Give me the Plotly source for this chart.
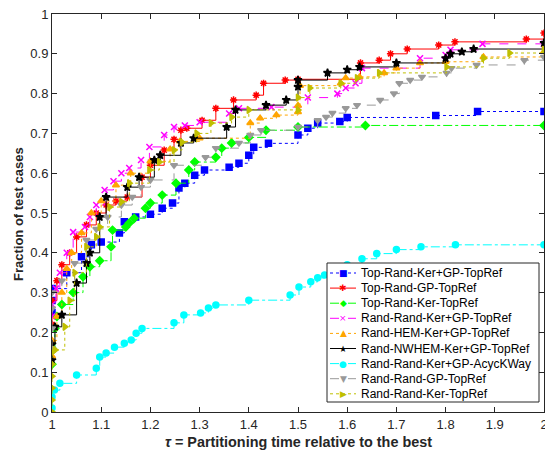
import plotly.graph_objects as go

# performance profile: tau values and fraction of test cases for each method
legend_names = [
    "Top-Rand-Ker+GP-TopRef",
    "Top-Rand-GP-TopRef",
    "Top-Rand-Ker-TopRef",
    "Rand-Rand-Ker+GP-TopRef",
    "Rand-HEM-Ker+GP-TopRef",
    "Rand-NWHEM-Ker+GP-TopRef",
    "Rand-Rand-Ker+GP-AcycKWay",
    "Rand-Rand-GP-TopRef",
    "Rand-Rand-Ker-TopRef",
]

tau_top_rand_kergp = [1.0, 1.0, 1.0, 1.03, 1.06, 1.08, 1.10, 1.137, 1.147, 1.17, 1.2, 1.224, 1.245,
                      1.258, 1.27, 1.29, 1.31, 1.36, 1.38, 1.40, 1.41, 1.44, 1.50, 1.52, 1.54,
                      1.585, 1.60, 1.78, 1.865, 2.0]
frac_top_rand_kergp = [0.25, 0.28, 0.31, 0.35, 0.39, 0.42, 0.427, 0.45, 0.478, 0.49, 0.497, 0.512, 0.525,
                       0.563, 0.575, 0.595, 0.608, 0.615, 0.625, 0.645, 0.665, 0.675, 0.696, 0.713, 0.726,
                       0.73, 0.74, 0.745, 0.755, 0.755]

tau_top_rand_gp = [1.0, 1.0, 1.01, 1.02, 1.036, 1.05, 1.07, 1.09, 1.11, 1.13, 1.153, 1.183, 1.2, 1.228,
                   1.248, 1.262, 1.274, 1.305, 1.333, 1.369, 1.415, 1.43, 1.474, 1.50, 1.627, 1.665,
                   1.688, 1.722, 1.786, 1.819, 1.964, 2.0]
frac_top_rand_gp = [0.22, 0.28, 0.33, 0.37, 0.40, 0.44, 0.47, 0.50, 0.52, 0.53, 0.54, 0.59, 0.62, 0.658,
                    0.685, 0.708, 0.713, 0.733, 0.763, 0.784, 0.796, 0.826, 0.834, 0.836, 0.877, 0.884,
                    0.90, 0.912, 0.922, 0.93, 0.937, 0.952]

tau_top_rand_ker = [1.0, 1.0, 1.006, 1.01, 1.02, 1.043, 1.063, 1.077, 1.097, 1.12, 1.123, 1.15, 1.157,
                    1.167, 1.19, 1.2, 1.224, 1.252, 1.278, 1.29, 1.333, 1.345, 1.365, 1.40, 1.435,
                    1.50, 1.637, 2.0]
frac_top_rand_ker = [0.12, 0.16, 0.21, 0.24, 0.27, 0.30, 0.34, 0.365, 0.38, 0.415, 0.457, 0.465, 0.475,
                     0.487, 0.512, 0.525, 0.545, 0.575, 0.608, 0.628, 0.64, 0.663, 0.676, 0.69, 0.708,
                     0.716, 0.72, 0.72]

tau_rand_rand_kergp = [1.0, 1.0, 1.008, 1.016, 1.03, 1.043, 1.067, 1.077, 1.09, 1.107, 1.125, 1.141,
                       1.157, 1.181, 1.198, 1.228, 1.248, 1.27, 1.30, 1.36, 1.38, 1.446, 1.52, 1.58,
                       1.597, 1.617, 1.63, 1.748, 1.80, 1.81, 1.875, 2.0]
frac_rand_rand_kergp = [0.24, 0.27, 0.31, 0.35, 0.40, 0.452, 0.465, 0.49, 0.52, 0.558, 0.58, 0.60,
                        0.613, 0.633, 0.666, 0.696, 0.716, 0.72, 0.728, 0.75, 0.763, 0.766, 0.79, 0.80,
                        0.814, 0.826, 0.864, 0.889, 0.897, 0.91, 0.925, 0.925]

tau_rand_hem_kergp = [1.0, 1.0, 1.01, 1.02, 1.03, 1.04, 1.06, 1.08, 1.10, 1.13, 1.16, 1.20, 1.24, 1.26,
                      1.30, 1.403, 1.423, 1.456, 1.50, 1.50, 1.504, 1.587, 1.597, 1.625, 1.675, 1.70,
                      1.748, 1.80, 1.877, 2.0]
frac_rand_hem_kergp = [0.14, 0.18, 0.24, 0.30, 0.36, 0.40, 0.45, 0.50, 0.53, 0.57, 0.60, 0.63, 0.66, 0.68,
                       0.688, 0.726, 0.738, 0.746, 0.754, 0.77, 0.82, 0.826, 0.839, 0.842, 0.852, 0.864,
                       0.877, 0.88, 0.892, 0.905]

tau_rand_nwhem_kergp = [1.0, 1.0, 1.006, 1.02, 1.05, 1.07, 1.077, 1.097, 1.11, 1.153, 1.177, 1.208, 1.22,
                        1.262, 1.288, 1.355, 1.373, 1.435, 1.476, 1.50, 1.50, 1.56, 1.60, 1.625, 1.70,
                        1.80, 1.81, 1.833, 1.857, 2.0]
frac_rand_nwhem_kergp = [0.13, 0.17, 0.214, 0.244, 0.324, 0.374, 0.40, 0.49, 0.54, 0.565, 0.59, 0.633, 0.645,
                         0.676, 0.688, 0.716, 0.759, 0.771, 0.784, 0.817, 0.834, 0.852, 0.86, 0.867, 0.877,
                         0.889, 0.90, 0.905, 0.912, 0.927]

tau_rand_rand_acyc = [1.0, 1.0, 1.005, 1.016, 1.05, 1.09, 1.097, 1.11, 1.127, 1.147, 1.161, 1.171, 1.183,
                      1.248, 1.268, 1.302, 1.318, 1.333, 1.40, 1.484, 1.502, 1.526, 1.54, 1.554, 1.57,
                      1.60, 1.63, 1.66, 1.70, 1.75, 1.82, 2.0]
frac_rand_rand_acyc = [0.01, 0.038, 0.055, 0.072, 0.093, 0.11, 0.138, 0.148, 0.163, 0.173, 0.181, 0.198, 0.21,
                       0.224, 0.244, 0.249, 0.261, 0.269, 0.281, 0.294, 0.314, 0.327, 0.337, 0.344, 0.355,
                       0.37, 0.385, 0.398, 0.408, 0.415, 0.42, 0.42]

tau_rand_rand_gp = [1.0, 1.0, 1.0, 1.0, 1.02, 1.046, 1.07, 1.09, 1.113, 1.141, 1.163, 1.181, 1.2, 1.248,
                    1.312, 1.333, 1.38, 1.403, 1.425, 1.50, 1.54, 1.557, 1.57, 1.597, 1.62, 1.667, 1.695,
                    1.706, 1.728, 1.752, 1.802, 1.812, 1.863, 1.96, 2.0]
frac_rand_rand_gp = [0.16, 0.21, 0.26, 0.30, 0.33, 0.374, 0.432, 0.46, 0.49, 0.52, 0.54, 0.565, 0.583, 0.62,
                     0.64, 0.663, 0.676, 0.696, 0.708, 0.716, 0.733, 0.741, 0.751, 0.763, 0.771, 0.784, 0.80,
                     0.826, 0.834, 0.842, 0.852, 0.864, 0.872, 0.884, 0.892]

tau_rand_rand_ker = [1.0, 1.0, 1.0, 1.0, 1.0, 1.0, 1.006, 1.026, 1.036, 1.046, 1.07, 1.09, 1.097, 1.117,
                     1.141, 1.157, 1.198, 1.218, 1.248, 1.264, 1.294, 1.323, 1.365, 1.40, 1.50, 1.50,
                     1.524, 1.587, 1.62, 1.665, 1.802, 1.877, 1.93, 2.0]
frac_rand_rand_ker = [0.0, 0.03, 0.06, 0.09, 0.12, 0.15, 0.156, 0.214, 0.28, 0.35, 0.415, 0.44, 0.465, 0.515,
                      0.528, 0.575, 0.608, 0.628, 0.658, 0.678, 0.70, 0.726, 0.741, 0.759, 0.759, 0.79,
                      0.814, 0.826, 0.839, 0.852, 0.867, 0.889, 0.902, 0.91]

series_tau = [tau_top_rand_kergp, tau_top_rand_gp, tau_top_rand_ker, tau_rand_rand_kergp,
              tau_rand_hem_kergp, tau_rand_nwhem_kergp, tau_rand_rand_acyc, tau_rand_rand_gp,
              tau_rand_rand_ker]
series_frac = [frac_top_rand_kergp, frac_top_rand_gp, frac_top_rand_ker, frac_rand_rand_kergp,
               frac_rand_hem_kergp, frac_rand_nwhem_kergp, frac_rand_rand_acyc, frac_rand_rand_gp,
               frac_rand_rand_ker]

x_ticks = [1, 1.1, 1.2, 1.3, 1.4, 1.5, 1.6, 1.7, 1.8, 1.9, 2]
y_ticks = [0, 0.1, 0.2, 0.3, 0.4, 0.5, 0.6, 0.7, 0.8, 0.9, 1]

# matlab-ish styles
colors = ["#0000FF", "#FF0000", "#00FF00", "#FF00FF", "#FFA500", "#000000", "#00FFFF", "#999999", "#BFBF00"]
dashes = ["dot", "solid", "dashdot", "dash", "dot", "solid", "dashdot", "dash", "dot"]
symbols = ["square", "asterisk-open", "diamond", "x-thin-open", "triangle-up", "star", "circle",
           "triangle-down", "triangle-right"]
glyphs = ["■", "✱", "◆", "×", "▲", "★", "●", "▼", "▶"]

# the page body has an 8px margin and the visible area ends near x=545,
# so the right spine is pulled in a little to stay on screen
OFF = 8
W, H = 553 - OFF, 450 - OFF
L, T = 52 - OFF, 14 - OFF
R = W + OFF - 544
B = H + OFF - 412
PW, PH = W - L - R, H - T - B


def px_x(px):
    # page pixel -> paper coordinate
    return (px - OFF - L) / PW


def px_y(py):
    return (H - B - (py - OFF)) / PH


fig = go.Figure()
for name, xs, ys, c, d, s in zip(legend_names, series_tau, series_frac, colors, dashes, symbols):
    fig.add_trace(go.Scatter(
        x=xs, y=ys, name=name, mode="lines+markers", line_shape="hv",
        line=dict(color=c, dash=d, width=1),
        marker=dict(symbol=s, size=6, color=c, line=dict(color=c, width=1.5)),
        showlegend=False,
    ))

# hand-made legend box (matlab rows are tighter than plotly's legend allows)
shapes = [dict(type="rect", xref="paper", yref="paper", x0=px_x(327), x1=px_x(539),
               y0=px_y(402), y1=px_y(263), line=dict(color="#262626", width=1),
               fillcolor="white", layer="above")]
annotations = []
row0, row_step = 273, 15.1
for i, (name, c, d, g) in enumerate(zip(legend_names, colors, dashes, glyphs)):
    yy = px_y(row0 + i * row_step)
    shapes.append(dict(type="line", xref="paper", yref="paper", x0=px_x(330), x1=px_x(356),
                       y0=yy, y1=yy, line=dict(color=c, dash=d, width=1), layer="above"))
    annotations.append(dict(xref="paper", yref="paper", x=px_x(343), y=yy, text=g, showarrow=False,
                            font=dict(family="DejaVu Sans", size=9, color=c),
                            xanchor="center", yanchor="middle"))
    annotations.append(dict(xref="paper", yref="paper", x=px_x(359), y=yy, text=name, showarrow=False,
                            font=dict(family="Liberation Sans, Arial", size=12, color="#000000"),
                            xanchor="left", yanchor="middle"))

annotations.append(dict(xref="paper", yref="paper", x=px_x(298), y=px_y(442),
                        text="<b><i>τ</i> = Partitioning time relative to the best</b>",
                        showarrow=False, font=dict(size=14.4, color="#262626"),
                        xanchor="center", yanchor="middle"))
annotations.append(dict(xref="paper", yref="paper", x=px_x(19), y=px_y(214),
                        text="<b>Fraction of test cases</b>", textangle=-90,
                        showarrow=False, font=dict(size=13, color="#262626"),
                        xanchor="center", yanchor="middle"))

axis_common = dict(showline=True, linecolor="#262626", linewidth=1, mirror="ticks",
                   ticks="inside", ticklen=5, tickcolor="#262626", showgrid=False, zeroline=False,
                   automargin=False, ticklabeloverflow="allow",
                   tickfont=dict(family="Liberation Sans, Arial", size=13, color="#262626"))

fig.update_layout(
    width=W, height=H,
    margin=dict(l=L, r=R, t=T, b=B),
    paper_bgcolor="white", plot_bgcolor="white",
    font=dict(family="Liberation Sans, Arial", color="#262626"),
    xaxis=dict(range=[1, 2], tickvals=x_ticks, ticktext=[f"{v:g}" for v in x_ticks], **axis_common),
    yaxis=dict(range=[0, 1], tickvals=y_ticks, ticktext=[f"{v:g}" for v in y_ticks], **axis_common),
    shapes=shapes,
    annotations=annotations,
    showlegend=False,
)

fig.write_html("out.html")
